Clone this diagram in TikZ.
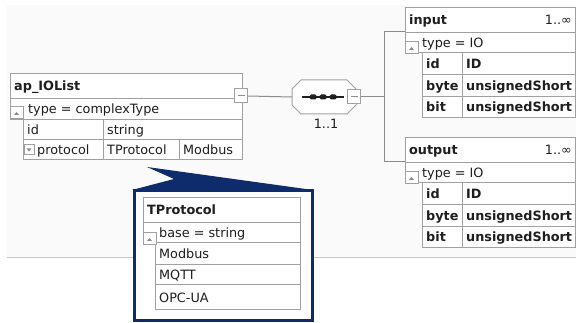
\documentclass[tikz,border=0pt]{standalone}
\usepackage{fontspec}
\setmainfont{DejaVu Sans}
\definecolor{cellgray}{HTML}{A0A0A0}
\definecolor{conngray}{HTML}{8C8C8C}
\definecolor{txtc}{HTML}{1E1E1E}
\definecolor{navyc}{HTML}{0E2B6C}
\definecolor{bgc}{HTML}{FAFAFA}
\definecolor{linec}{HTML}{C4C4C4}
\definecolor{trigray}{HTML}{8A8A8A}
\newcommand\xsdUpBtn[2]{%
  \draw[cell,fill=white] (#1,#2) rectangle (#1+13,#2+12);
  \fill[trigray] (#1+4,#2+8) -- (#1+9,#2+8) -- (#1+6.5,#2+5) -- cycle;}
\newcommand\xsdIoBlock[3]{%
  \draw[cell,fill=white] (405,#1) rectangle (575,#1+25);
  \draw[cell,fill=white] (405,#1+25) rectangle (575,#1+45);
  \draw[cell,fill=white] (422,#1+45) rectangle (575,#1+67);
  \draw[cell,fill=white] (422,#1+67) rectangle (575,#1+89);
  \draw[cell,fill=white] (422,#1+89) rectangle (575,#1+110);
  \draw[cell] (462,#1+45) -- (462,#1+110);
  \xsdUpBtn{405}{#1+34}
  \node[btxt] (#3-title) at (409,#1+17) {#2};
  \node[txt, anchor=base east] (#3-card) at (572,#1+17) {1..∞};
  \node[txt] (#3-type) at (422,#1+39.5) {type = IO};
  \node[btxt] (#3-idn) at (426,#1+60.5) {id};
  \node[btxt] (#3-idt) at (466,#1+60.5) {ID};
  \node[btxt] (#3-byten) at (426,#1+82.5) {byte};
  \node[btxt] (#3-bytet) at (466,#1+82.5) {unsignedShort};
  \node[btxt] (#3-bitn) at (426,#1+104) {bit};
  \node[btxt] (#3-bitt) at (466,#1+104) {unsignedShort};}
\begin{document}
\begin{tikzpicture}[x=1pt,y=-1pt,
  cell/.style={draw=cellgray, line width=1pt},
  txt/.style={inner sep=0pt, anchor=base west, text=txtc, font=\fontsize{12.8}{15}\selectfont},
  btxt/.style={txt, font=\fontsize{12.8}{15}\selectfont\bfseries},
  conn/.style={draw=conngray, line width=1pt},
  minusbox/.style={draw=cellgray, fill=white, line width=1pt, minimum width=13pt, minimum height=14pt, inner sep=0pt,
    path picture={\draw[conngray, line width=1pt] ([xshift=-3.5pt]path picture bounding box.center) -- ([xshift=3.5pt]path picture bounding box.center);}},
  ]
\useasboundingbox (0,0) rectangle (576,323);
\fill[bgc] (7,5) rectangle (576,257);
\draw[linec, line width=1pt] (7,257.5) -- (576,257.5);

% ap_IOList
\draw[cell,fill=white] (10,74) rectangle (242,99);
\draw[cell,fill=white] (10,99) rectangle (242,120);
\draw[cell,fill=white] (23,120) rectangle (242,140);
\draw[cell] (103,120) -- (103,140);
\draw[cell,fill=white] (23,140) rectangle (242,160);
\draw[cell] (103,140) -- (103,160);
\draw[cell] (179,140) -- (179,160);
\xsdUpBtn{10}{107}
\draw[cell,fill=white] (24,145) rectangle (34,155);
\fill[trigray] (26.5,148.5) -- (31.5,148.5) -- (29,151.5) -- cycle;
\node[btxt] (apt) at (14,91) {ap\_IOList};
\node[txt] (aptype) at (28,114) {type = complexType};
\node[txt] (apid) at (27,134.5) {id};
\node[txt] (apstr) at (107,134.5) {string};
\node[txt] (approt) at (37,154.5) {protocol};
\node[txt] (aptp) at (107,154.5) {TProtocol};
\node[txt] (apmod) at (183,154.5) {Modbus};
\node[minusbox] (apm) at (241,96) {};

% sequence compositor
\draw[cell,fill=white] (301,80) -- (347,80) -- (356,89) -- (356,105) -- (347,114) -- (301,114) -- (292,105) -- (292,89) -- cycle;
\node[inner sep=0pt, minimum width=64pt, minimum height=34pt] (seq) at (324,97) {};
\draw[txtc, line width=1.3pt] (302,97) -- (344,97);
\foreach \xx in {313,323,333} \fill[txtc, rounded corners=1.5pt] (\xx-3.5,94.5) rectangle (\xx+3.5,99.5);
\node[minusbox] (seqm) at (354,97) {};
\node[txt, anchor=base] (seqcard) at (326,128.5) {1..1};

% input / output
\xsdIoBlock{8}{input}{in}
\xsdIoBlock{138}{output}{out}

% connectors
\coordinate (fork) at (384,97);
\coordinate (forkT) at (384,32);
\coordinate (forkB) at (384,162);
\coordinate (inJ) at (405,32);
\coordinate (outJ) at (405,162);
\draw[conn] (apm.east) -- (seq.west);
\draw[conn] (seqm.east) -- (fork);
\draw[conn] (inJ) -- (forkT) -- (forkB) -- (outJ);

% TProtocol popup
\fill[navyc] (147,167) -- (313,190) -- (132,190) -- (174,179) -- cycle;
\draw[navyc, line width=3pt, fill=white] (134,191) rectangle (312,320);
\draw[cell,fill=white] (143,198) rectangle (300,223);
\draw[cell,fill=white] (143,223) rectangle (300,243);
\draw[cell,fill=white] (155,243) rectangle (300,265);
\draw[cell,fill=white] (155,265) rectangle (300,285);
\draw[cell,fill=white] (155,285) rectangle (300,310);
\xsdUpBtn{143}{233}
\node[btxt] (tpt) at (147,215) {TProtocol};
\node[txt] (tpbase) at (159,237.5) {base = string};
\node[txt] (tpm1) at (159,258.5) {Modbus};
\node[txt] (tpm2) at (159,279.5) {MQTT};
\node[txt] (tpm3) at (159,302) {OPC-UA};
\end{tikzpicture}
\end{document}
